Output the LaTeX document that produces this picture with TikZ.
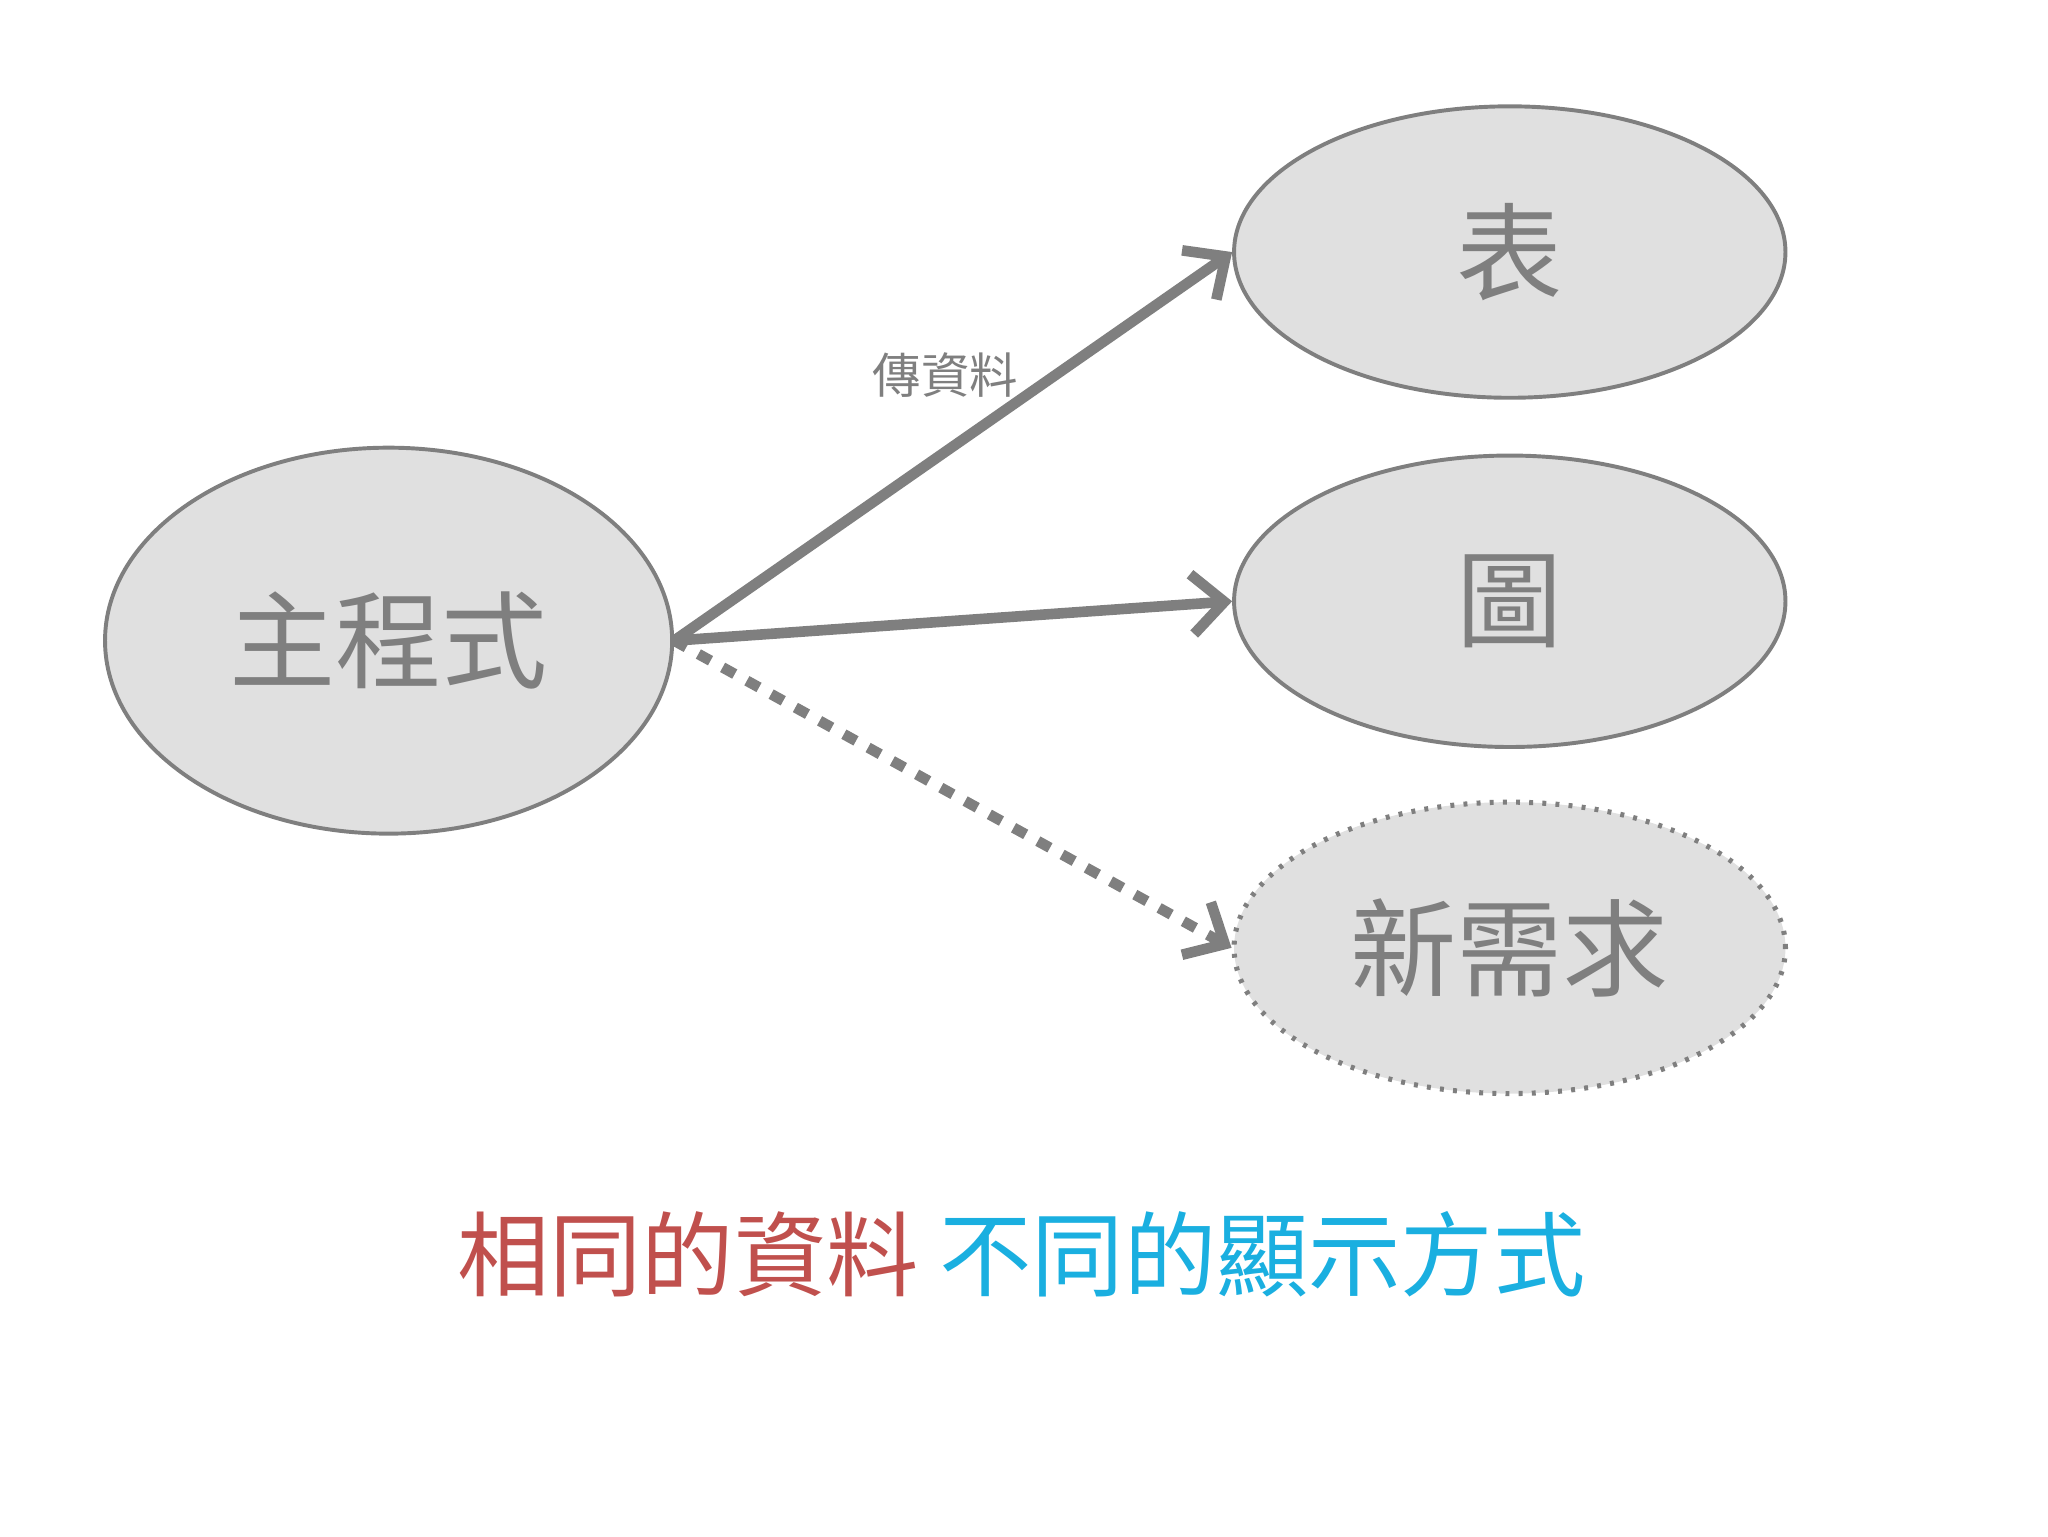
\documentclass[tikz,border=0pt]{standalone}
\usepackage{fontspec}
\usetikzlibrary{shapes.geometric,arrows.meta}
\newfontfamily\cjk{Noto Sans CJK TC}
\definecolor{edge}{HTML}{7F7F7F}
\definecolor{fillg}{HTML}{E0E0E0}
\definecolor{redt}{HTML}{C0504D}
\definecolor{bluet}{HTML}{1AAFE0}
\begin{document}
\begin{tikzpicture}[
  oval/.style={ellipse,draw=edge,fill=fillg,line width=0.85pt,inner sep=0pt,font=\cjk\fontsize{23}{27}\selectfont,text=edge},
  conn/.style={draw=edge,line width=2.3pt,-{Straight Barb[length=7pt,width=13pt,line width=2.3pt]}}]
\useasboundingbox (0,0) rectangle (15.6,-11.7);
\node[oval,minimum width=4.32cm,minimum height=2.94cm] (main) at (2.96,-4.88) {主程式};
\node[oval,minimum width=4.2cm,minimum height=2.22cm] (t) at (11.5,-1.92) {表};
\node[oval,minimum width=4.2cm,minimum height=2.22cm] (g) at (11.5,-4.58) {圖};
\node[oval,minimum width=4.2cm,minimum height=2.22cm,dotted,line width=1.1pt] (n) at (11.5,-7.22) {新需求};
\draw[conn] (main.east) -- (t.west);
\draw[conn] (main.east) -- (g.west);
\draw[conn,dash pattern=on 3pt off 3pt] (main.east) -- (n.west);
\node[font=\cjk\fontsize{10.5}{12}\selectfont,text=edge] (lbl) at (7.2,-2.86) {傳資料};
\node[font=\cjk\fontsize{20}{24}\selectfont] (cap) at (7.78,-9.55) {\textcolor{redt}{相同的資料} \textcolor{bluet}{不同的顯示方式}};
\end{tikzpicture}
\end{document}
